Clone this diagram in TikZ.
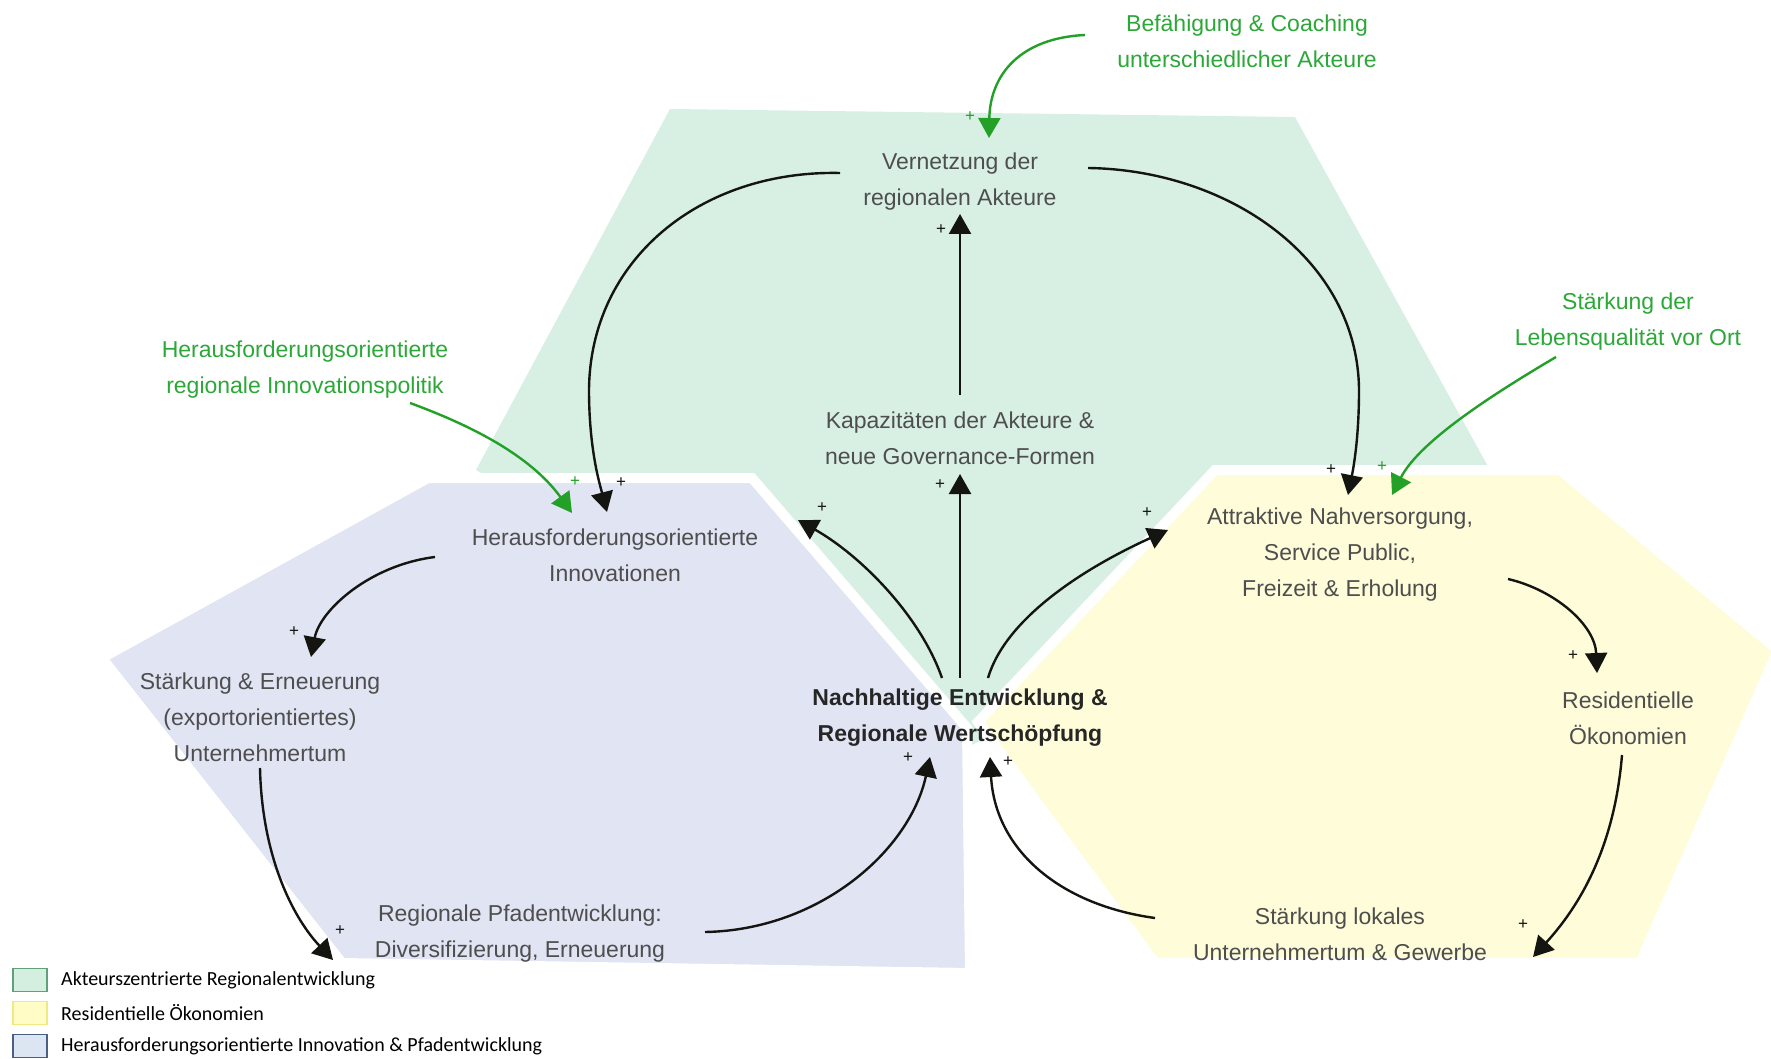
\documentclass[tikz,border=0pt]{standalone}
\usepackage{fontspec}
\setmainfont{Liberation Sans}
\newfontfamily\legendfont{Carlito}
\usetikzlibrary{arrows.meta,calc}
\definecolor{gfill}{RGB}{216,240,228}
\definecolor{bfill}{RGB}{224,228,243}
\definecolor{yfill}{RGB}{254,252,217}
\definecolor{txtgray}{RGB}{78,78,78}
\definecolor{gtext}{RGB}{44,168,56}
\definecolor{garrow}{RGB}{34,160,40}
\definecolor{arrblack}{RGB}{20,20,16}
\definecolor{lgfill}{RGB}{212,239,224}
\definecolor{lgdraw}{RGB}{96,160,122}
\definecolor{lyfill}{RGB}{255,253,197}
\definecolor{lydraw}{RGB}{240,232,130}
\definecolor{lbfill}{RGB}{220,229,242}
\definecolor{lbdraw}{RGB}{74,96,128}
\begin{document}
\begin{tikzpicture}[x=1pt,y=-1pt,
  lbl/.style={align=center,font=\fontsize{23}{36}\selectfont,text=txtgray,inner sep=0pt},
  glbl/.style={lbl,text=gtext},
  arr/.style={line width=2.4pt,draw=arrblack,-{Triangle[length=20pt,width=22pt]}},
  garr/.style={arr,draw=garrow},
  pl/.style={font=\fontsize{17}{17}\selectfont,text=arrblack,inner sep=0pt},
  gpl/.style={pl,text=garrow},
  region/.style={line width=10pt,draw=white,line join=miter},
  legbox/.style={draw=#1,line width=1.2pt,minimum width=34pt,minimum height=23pt,inner sep=0pt},
  legtxt/.style={font=\legendfont\fontsize{20}{20}\selectfont,text=black,anchor=west,inner sep=0pt}
]
\fill[white] (0,0) rectangle (1771,1059);
\useasboundingbox (0,0) rectangle (1771,1059);

% regions
\fill[gfill] (670,109) -- (1295,117) -- (1490,470) -- (972,745) -- (476,470) -- cycle;
\filldraw[region,fill=bfill] (428,478) -- (752,478) -- (967,728) -- (970,973) -- (342,963) -- (102,658) -- cycle;
\filldraw[region,fill=yfill] (1215,470) -- (1560,470) -- (1778,650) -- (1640,963) -- (1155,963) -- (978,722) -- cycle;

% nodes
\node[glbl] (bef) at (1247,41) {Befähigung \& Coaching\\unterschiedlicher Akteure};
\node[lbl] (vern) at (960,182) {Vernetzung der\\regionalen Akteure};
\node[lbl] (kap) at (960,438) {Kapazitäten der Akteure \&\\neue Governance-Formen};
\node[lbl,text=black!85,font=\bfseries\fontsize{23}{36}\selectfont] (ctr) at (960,718) {Nachhaltige Entwicklung \&\\Regionale Wertschöpfung};
\node[glbl] (hpol) at (305,370) {Herausforderungsorientierte\\regionale Innovationspolitik};
\node[glbl] (lq) at (1628,322) {Stärkung der\\Lebensqualität vor Ort};
\node[lbl] (hinn) at (615,555) {Herausforderungsorientierte\\Innovationen};
\node[lbl] (str) at (260,717) {Stärkung \& Erneuerung\\(exportorientiertes)\\Unternehmertum};
\node[lbl] (pfad) at (520,934) {Regionale Pfadentwicklung:\\Diversifizierung, Erneuerung};
\node[lbl] (attr) at (1340,555) {Attraktive Nahversorgung,\\Service Public,\\Freizeit \& Erholung};
\node[lbl] (res) at (1628,718) {Residentielle\\Ökonomien};
\node[lbl] (lok) at (1340,934) {Stärkung lokales\\Unternehmertum \& Gewerbe};

% connectors
\draw[garr] ($(bef.center)+(-162,-6)$) .. controls (1020,38) and (990,75) .. ($(vern.center)+(29,-44)$);
\draw[arr] ($(kap.center)+(0,-43)$) -- ($(vern.center)+(0,32)$);
\draw[arr] ($(ctr.center)+(0,-40)$) -- ($(kap.center)+(0,36)$);
\draw[arr] ($(ctr.center)+(-18,-40)$) .. controls (920,615) and (860,555) .. ($(hinn.center)+(183,-35)$);
\draw[arr] ($(ctr.center)+(28,-40)$) .. controls (1005,620) and (1080,570) .. ($(attr.center)+(-172,-25)$);
\draw[arr] ($(vern.center)+(-120,-9)$) .. controls (700,170) and (590,260) .. (589,390) .. controls (589,450) and (600,485) .. ($(hinn.center)+(-8,-43)$);
\draw[arr] ($(vern.center)+(128,-14)$) .. controls (1230,170) and (1358,260) .. (1359,390) .. controls (1359,440) and (1353,470) .. ($(attr.center)+(8,-60)$);
\draw[garr] ($(hpol.center)+(105,33)$) .. controls (470,425) and (530,455) .. ($(hinn.center)+(-43,-42)$);
\draw[garr] ($(lq.center)+(-72,35)$) .. controls (1500,390) and (1420,440) .. ($(attr.center)+(52,-60)$);
\draw[arr] ($(hinn.center)+(-180,2)$) .. controls (370,565) and (320,610) .. ($(str.center)+(51,-60)$);
\draw[arr] ($(str.center)+(0,51)$) .. controls (262,860) and (295,920) .. ($(pfad.center)+(-187,26)$);
\draw[arr] ($(pfad.center)+(185,-2)$) .. controls (820,930) and (910,850) .. ($(ctr.center)+(-30,39)$);
\draw[arr] ($(attr.center)+(168,24)$) .. controls (1555,590) and (1595,625) .. ($(res.center)+(-31,-45)$);
\draw[arr] ($(res.center)+(-6,37)$) .. controls (1615,840) and (1585,900) .. ($(lok.center)+(193,23)$);
\draw[arr] ($(lok.center)+(-185,-16)$) .. controls (1060,905) and (995,850) .. ($(ctr.center)+(30,39)$);

% plus signs
\node[gpl] (p1) at (970,117) {+};
\node[pl] (p2) at (941,230) {+};
\node[pl] (p3) at (940,485) {+};
\node[pl] (p4) at (822,508) {+};
\node[pl] (p5) at (1147,513) {+};
\node[pl] (p6) at (621,483) {+};
\node[gpl] (p7) at (575,482) {+};
\node[pl] (p8) at (1331,470) {+};
\node[gpl] (p9) at (1382,467) {+};
\node[pl] (p10) at (294,632) {+};
\node[pl] (p11) at (340,931) {+};
\node[pl] (p12) at (908,758) {+};
\node[pl] (p13) at (1008,762) {+};
\node[pl] (p14) at (1573,656) {+};
\node[pl] (p15) at (1523,925) {+};

% legend
\node[legbox=lgdraw,fill=lgfill] (lg1) at (30,980) {};
\node[legbox=lydraw,fill=lyfill] (lg2) at (30,1013) {};
\node[legbox=lbdraw,fill=lbfill] (lg3) at (30,1046) {};
\node[legtxt] (lt1) at (61,980) {Akteurszentrierte Regionalentwicklung};
\node[legtxt] (lt2) at (61,1013) {Residentielle Ökonomien};
\node[legtxt] (lt3) at (61,1046) {Herausforderungsorientierte Innovation \& Pfadentwicklung};
\end{tikzpicture}
\end{document}
